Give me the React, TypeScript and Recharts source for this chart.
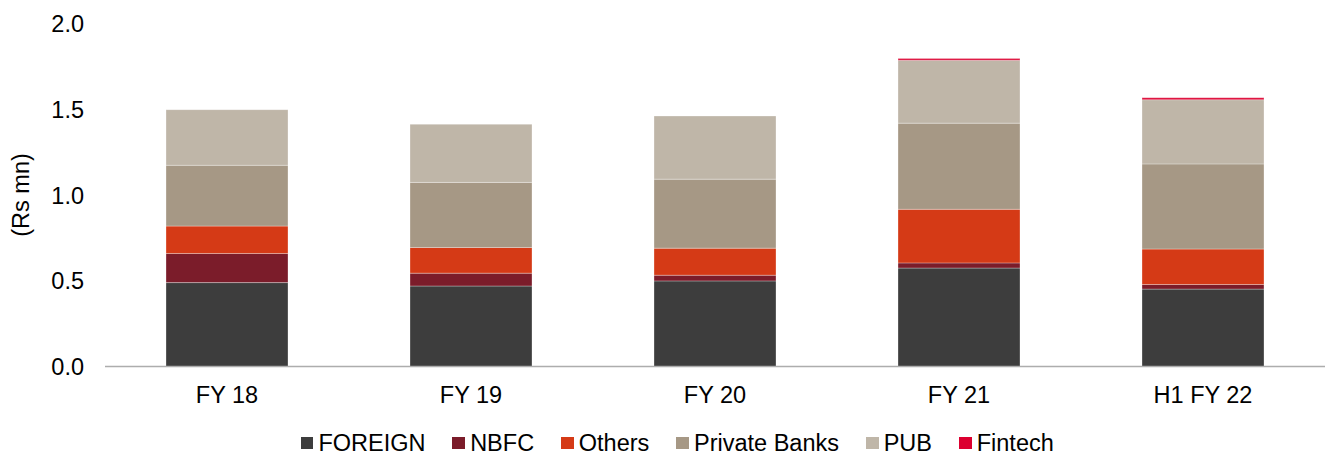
import React from "react";
import { BarChart, Bar, XAxis, YAxis, Legend } from "recharts";

if (typeof document !== "undefined") {
  document.body.style.margin = "0";
}

const categories = ["FY 18", "FY 19", "FY 20", "FY 21", "H1 FY 22"];
const foreign = [0.49, 0.47, 0.5, 0.575, 0.452];
const nbfc = [0.17, 0.075, 0.033, 0.03, 0.027];
const others = [0.16, 0.15, 0.158, 0.313, 0.207];
const privateBanks = [0.355, 0.38, 0.403, 0.503, 0.497];
const pub = [0.325, 0.34, 0.369, 0.368, 0.375];
const fintech = [0, 0, 0, 0.01, 0.011];
const yTicks = [0, 0.5, 1, 1.5, 2];

const series = [
  { key: "FOREIGN", values: foreign, color: "#3D3D3D" },
  { key: "NBFC", values: nbfc, color: "#7B1C2A" },
  { key: "Others", values: others, color: "#D53A16" },
  { key: "Private Banks", values: privateBanks, color: "#A69885" },
  { key: "PUB", values: pub, color: "#BFB6A8" },
  { key: "Fintech", values: fintech, color: "#DC0030" },
];

const data = categories.map((c, i) => {
  const row: Record<string, any> = { name: c };
  series.forEach((s) => {
    row[s.key] = s.values[i];
  });
  return row;
});

const FONT = '"Liberation Sans", Arial, sans-serif';
const FS = 23.5;

const LegendContent = () => (
  <div
    style={{
      height: 30,
      display: "flex",
      alignItems: "center",
      paddingLeft: 300.7,
      fontFamily: FONT,
      fontSize: FS,
      color: "#000",
      whiteSpace: "nowrap",
    }}
  >
    {series.map((s) => (
      <div key={s.key} style={{ display: "flex", alignItems: "center", marginRight: 27 }}>
        <span
          style={{
            display: "inline-block",
            width: 12.7,
            height: 12.7,
            background: s.color,
            marginRight: 5,
          }}
        />
        <span>{s.key}</span>
      </div>
    ))}
  </div>
);

const YLabel = () => (
  <text
    x={20.5}
    y={195}
    transform="rotate(-90, 20.5, 195)"
    textAnchor="middle"
    dominantBaseline="central"
    fontFamily={FONT}
    fontSize={FS}
    fill="#000"
  >
    (Rs mn)
  </text>
);

export default function App() {
  return (
    <div style={{ width: 1327, height: 454, background: "#fff" }}>
      <BarChart
        width={1327}
        height={454}
        data={data}
        margin={{ top: 24, right: 2, left: 0, bottom: 0 }}
      >
        <XAxis
          dataKey="name"
          height={57.5}
          tickLine={false}
          tickMargin={14}
          axisLine={{ stroke: "#ADADAD", strokeWidth: 1.5 }}
          tick={{ fontFamily: FONT, fontSize: FS, fill: "#000" }}
          interval={0}
        />
        <YAxis
          width={105}
          domain={[0, 2]}
          ticks={yTicks}
          axisLine={false}
          tickLine={false}
          tickMargin={15}
          tickFormatter={(v: number) => v.toFixed(1)}
          tick={{ fontFamily: FONT, fontSize: FS, fill: "#000" }}
          label={<YLabel />}
        />
        <Legend
          content={<LegendContent />}
          wrapperStyle={{ top: 428, left: 0, width: 1327 }}
        />
        {series.map((s) => (
          <Bar
            key={s.key}
            dataKey={s.key}
            stackId="a"
            fill={s.color}
            barSize={122}
            stroke="#ffffff"
            strokeOpacity={0.3}
            strokeWidth={1}
            isAnimationActive={false}
          />
        ))}
      </BarChart>
    </div>
  );
}
